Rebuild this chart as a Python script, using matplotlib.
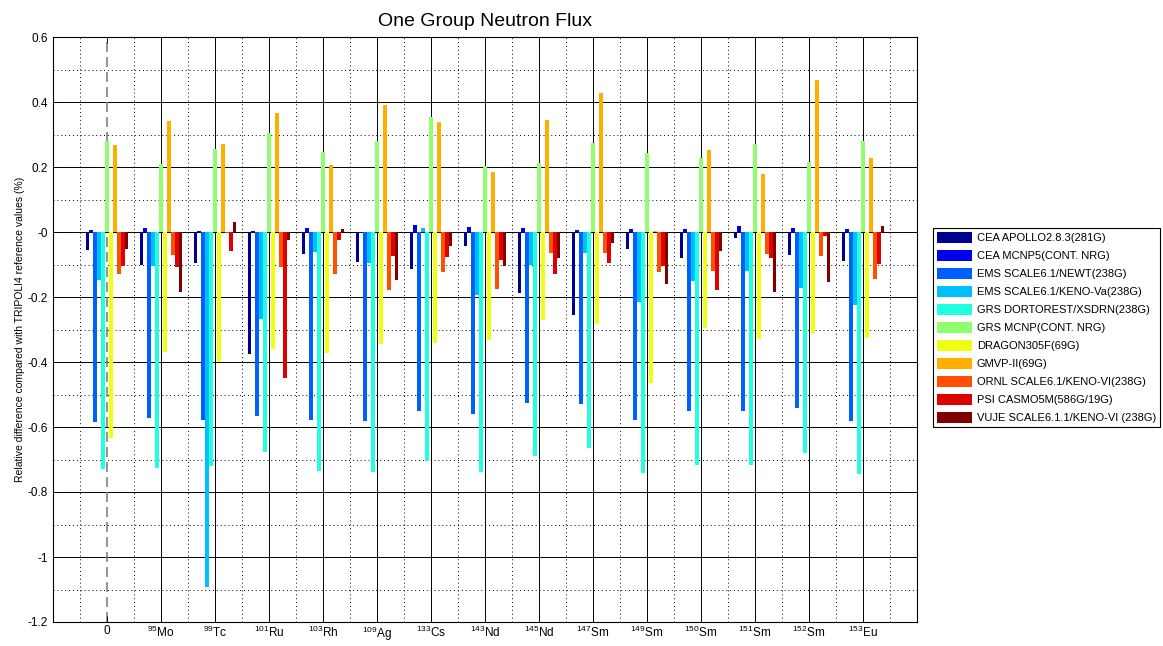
import numpy as np
import matplotlib
matplotlib.use("Agg")
import matplotlib.pyplot as plt
from matplotlib.ticker import FuncFormatter

plt.rcParams['font.family'] = ['Liberation Sans', 'DejaVu Sans']
plt.rcParams['axes.unicode_minus'] = False
plt.rcParams['mathtext.default'] = 'regular'

groups = ["0", "$^{95}$Mo", "$^{99}$Tc", "$^{101}$Ru", "$^{103}$Rh", "$^{109}$Ag", "$^{133}$Cs",
          "$^{143}$Nd", "$^{145}$Nd", "$^{147}$Sm", "$^{149}$Sm", "$^{150}$Sm", "$^{151}$Sm",
          "$^{152}$Sm", "$^{153}$Eu"]

series_names = ["CEA APOLLO2.8.3(281G)", "CEA MCNP5(CONT. NRG)", "EMS SCALE6.1/NEWT(238G)",
                "EMS SCALE6.1/KENO-Va(238G)", "GRS DORTOREST/XSDRN(238G)", "GRS MCNP(CONT. NRG)",
                "DRAGON305F(69G)", "GMVP-II(69G)", "ORNL SCALE6.1/KENO-VI(238G)",
                "PSI CASMO5M(586G/19G)", "VUJE SCALE6.1.1/KENO-VI (238G)"]

apollo = [-0.054, -0.102, -0.095, -0.376, -0.068, -0.091, -0.115, -0.044, -0.189, -0.255, -0.052, -0.079, -0.019, -0.072, -0.088]
mcnp5 = [0.005, 0.012, 0.004, 0.004, 0.012, -0.002, 0.021, 0.014, 0.012, 0.006, 0.008, 0.008, 0.019, 0.012, 0.008]
newt = [-0.586, -0.571, -0.579, -0.567, -0.579, -0.581, -0.552, -0.559, -0.526, -0.528, -0.579, -0.551, -0.551, -0.540, -0.581]
kenova = [-0.149, -0.106, -1.091, -0.267, -0.060, -0.094, 0.012, -0.193, -0.101, -0.065, -0.216, -0.152, -0.121, -0.171, -0.225]
dort = [-0.729, -0.727, -0.721, -0.678, -0.735, -0.738, -0.705, -0.738, -0.688, -0.664, -0.740, -0.716, -0.716, -0.680, -0.744]
grs = [0.279, 0.209, 0.255, 0.304, 0.247, 0.281, 0.355, 0.204, 0.212, 0.275, 0.244, 0.228, 0.271, 0.215, 0.281]
dragon = [-0.635, -0.369, -0.400, -0.361, -0.371, -0.344, -0.341, -0.333, -0.272, -0.282, -0.465, -0.294, -0.329, -0.312, -0.327]
gmvp = [0.268, 0.341, 0.271, 0.367, 0.205, 0.392, 0.339, 0.185, 0.345, 0.427, 0.003, 0.253, 0.179, 0.469, 0.228]
ornl = [-0.129, -0.071, -0.003, -0.109, -0.128, -0.179, -0.124, -0.174, -0.066, -0.065, -0.122, -0.120, -0.067, -0.074, -0.145]
psi = [-0.104, -0.109, -0.059, -0.448, -0.024, -0.074, -0.076, -0.085, -0.128, -0.094, -0.106, -0.179, -0.079, -0.012, -0.099]
vuje = [-0.052, -0.186, 0.031, -0.026, 0.008, -0.148, -0.044, -0.106, -0.079, -0.034, -0.159, -0.058, -0.185, -0.154, 0.019]

series = [apollo, mcnp5, newt, kenova, dort, grs, dragon, gmvp, ornl, psi, vuje]

colors = [(0, 0, 0.5625), (0, 0, 0.9375), (0, 0.375, 1), (0, 0.75, 1), (0.125, 1, 0.875),
          (0.5625, 1, 0.4375), (0.9375, 1, 0.0625), (1, 0.6875, 0), (1, 0.3125, 0),
          (0.875, 0, 0), (0.5, 0, 0)]

fig = plt.figure(figsize=(11.63, 6.46), dpi=100)
ax = fig.add_axes([53/1163, 1-622/646, (917-53)/1163, (622-37)/646])

n = len(series)
x = np.arange(1, len(groups)+1)
pitch = 0.8 / n
width = pitch * 0.92
for i, (vals, c, name) in enumerate(zip(series, colors, series_names)):
    offs = (i - (n-1)/2) * pitch
    ax.bar(x + offs, vals, width=width, color=c, label=name, zorder=3, linewidth=0)

ax.set_xlim(0, 16)
ax.set_ylim(-1.2, 0.6)
ax.set_xticks(x)
ax.set_xticklabels(groups, fontsize=8.5)
ax.set_yticks(np.arange(-1.2, 0.61, 0.2))
ax.yaxis.set_major_formatter(FuncFormatter(lambda v, p: "%g" % round(v, 2)))
ax.tick_params(axis='both', direction='in', length=4, labelsize=8.5, top=True, right=True, width=0.6)
ax.tick_params(axis='x', pad=2)

# grid
for yv in np.arange(-1.2, 0.61, 0.2):
    ax.axhline(yv, color='black', lw=0.7, zorder=1)
for yv in np.arange(-1.1, 0.6, 0.2):
    ax.axhline(yv, color='black', lw=0.7, ls=(0, (1, 3)), zorder=1)
for xv in x[1:]:
    ax.axvline(xv, color='black', lw=0.7, zorder=1)
ax.axvline(x[0], color='gray', lw=1.2, ls=(0, (6, 3)), zorder=1)
for xv in np.arange(0.5, 16, 1.0):
    ax.axvline(xv, color='black', lw=0.7, ls=(0, (1, 3)), zorder=1)

for s in ax.spines.values():
    s.set_linewidth(0.8)

ax.set_title("One Group Neutron Flux", fontsize=14, pad=8)
ax.set_ylabel("Relative difference compared with TRIPOLI4 reference values (%)", fontsize=7.5, labelpad=2)

leg = ax.legend(loc='upper left', bbox_to_anchor=(933/1163, 1-228/646), bbox_transform=fig.transFigure,
                fontsize=8, frameon=True, fancybox=False, edgecolor='black', framealpha=1,
                handlelength=3.2, handleheight=1.1, handletextpad=0.4, labelspacing=0.62,
                borderpad=0.35, borderaxespad=0)
leg.get_frame().set_linewidth(0.8)

fig.savefig("out.png", dpi=100)
